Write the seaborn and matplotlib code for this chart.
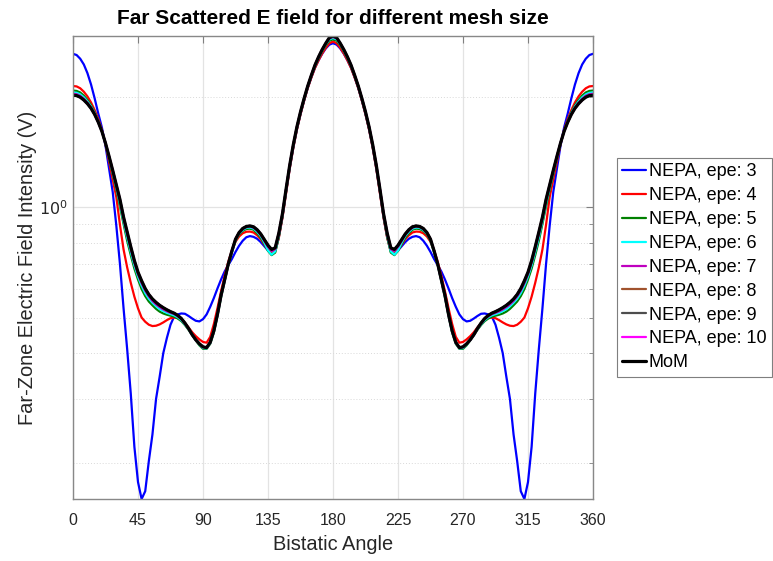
import matplotlib
matplotlib.use("Agg")
import matplotlib.pyplot as plt
import matplotlib.ticker as mticker
import seaborn as sns
import pandas as pd

# ---------------- data ----------------
angles = [0, 2.5, 5, 7.5, 10, 12.5, 15, 17.5, 20, 22.5,
          25, 27.5, 30, 32.5, 35, 37.5, 40, 42.5, 45, 47.5,
          50, 52.5, 55, 57.5, 60, 62.5, 65, 67.5, 70, 72.5,
          75, 77.5, 80, 82.5, 85, 87.5, 90, 92.5, 95, 97.5,
          100, 102.5, 105, 107.5, 110, 112.5, 115, 117.5, 120, 122.5,
          125, 127.5, 130, 132.5, 135, 137.5, 140, 142.5, 145, 147.5,
          150, 152.5, 155, 157.5, 160, 162.5, 165, 167.5, 170, 172.5,
          175, 177.5, 180, 182.5, 185, 187.5, 190, 192.5, 195, 197.5,
          200, 202.5, 205, 207.5, 210, 212.5, 215, 217.5, 220, 222.5,
          225, 227.5, 230, 232.5, 235, 237.5, 240, 242.5, 245, 247.5,
          250, 252.5, 255, 257.5, 260, 262.5, 265, 267.5, 270, 272.5,
          275, 277.5, 280, 282.5, 285, 287.5, 290, 292.5, 295, 297.5,
          300, 302.5, 305, 307.5, 310, 312.5, 315, 317.5, 320, 322.5,
          325, 327.5, 330, 332.5, 335, 337.5, 340, 342.5, 345, 347.5,
          350, 352.5, 355, 357.5, 360]

epe3 = [2.62, 2.60, 2.54, 2.45, 2.32, 2.16, 1.98, 1.80, 1.65, 1.47,
        1.27, 1.10, 0.89, 0.70, 0.53, 0.41, 0.31, 0.222, 0.178, 0.16,
        0.168, 0.203, 0.24, 0.30, 0.345, 0.40, 0.44, 0.478, 0.503, 0.51,
        0.513, 0.512, 0.505, 0.497, 0.49, 0.488, 0.495, 0.51, 0.535, 0.565,
        0.60, 0.635, 0.668, 0.695, 0.722, 0.755, 0.785, 0.81, 0.828, 0.834,
        0.83, 0.82, 0.803, 0.782, 0.762, 0.748, 0.76, 0.83, 0.94, 1.10,
        1.275, 1.455, 1.63, 1.795, 1.955, 2.115, 2.26, 2.40, 2.515, 2.62,
        2.71, 2.775, 2.80,
        2.775, 2.71,
        2.62, 2.515, 2.40, 2.26, 2.115, 1.955, 1.795, 1.63, 1.455, 1.275,
        1.10, 0.94, 0.83, 0.76, 0.748, 0.762, 0.782, 0.803, 0.82, 0.83,
        0.834, 0.828, 0.81, 0.785, 0.755, 0.722, 0.695, 0.668, 0.635, 0.60,
        0.565, 0.535, 0.51, 0.495, 0.488, 0.49, 0.497, 0.505, 0.512, 0.513,
        0.51, 0.503, 0.478, 0.44, 0.40, 0.345, 0.30, 0.24, 0.203, 0.168,
        0.16, 0.178, 0.222, 0.31, 0.41, 0.53, 0.70, 0.89, 1.10, 1.27,
        1.47, 1.65, 1.80, 1.98, 2.16, 2.32, 2.45, 2.54, 2.60, 2.62]

epe4 = [2.14, 2.135, 2.11, 2.065, 2.005, 1.93, 1.84, 1.74, 1.625, 1.485,
        1.33, 1.19, 1.065, 0.895, 0.767, 0.685, 0.622, 0.57, 0.53, 0.50,
        0.487, 0.478, 0.474, 0.475, 0.479, 0.485, 0.492, 0.498, 0.50, 0.499,
        0.493, 0.483, 0.47, 0.456, 0.445, 0.436, 0.429, 0.427, 0.443, 0.48,
        0.53, 0.59, 0.65, 0.71, 0.762, 0.805, 0.832, 0.849, 0.857, 0.858,
        0.853, 0.838, 0.818, 0.79, 0.765, 0.748, 0.758, 0.825, 0.935, 1.09,
        1.27, 1.45, 1.625, 1.79, 1.95, 2.11, 2.255, 2.395, 2.515, 2.625,
        2.72, 2.80, 2.83,
        2.80, 2.72,
        2.625, 2.515, 2.395, 2.255, 2.11, 1.95, 1.79, 1.625, 1.45, 1.27,
        1.09, 0.935, 0.825, 0.758, 0.748, 0.765, 0.79, 0.818, 0.838, 0.853,
        0.858, 0.857, 0.849, 0.832, 0.805, 0.762, 0.71, 0.65, 0.59, 0.53,
        0.48, 0.443, 0.427, 0.429, 0.436, 0.445, 0.456, 0.47, 0.483, 0.493,
        0.499, 0.50, 0.498, 0.492, 0.485, 0.479, 0.475, 0.474, 0.478, 0.487,
        0.50, 0.53, 0.57, 0.622, 0.685, 0.767, 0.895, 1.065, 1.19, 1.33,
        1.485, 1.625, 1.74, 1.84, 1.93, 2.005, 2.065, 2.11, 2.135, 2.14]

epe5 = [2.08, 2.075, 2.055, 2.015, 1.96, 1.895, 1.815, 1.72, 1.615, 1.49,
        1.355, 1.23, 1.115, 1.005, 0.90, 0.81, 0.74, 0.68, 0.635, 0.598,
        0.572, 0.553, 0.54, 0.528, 0.519, 0.513, 0.509, 0.506, 0.503, 0.497,
        0.489, 0.477, 0.463, 0.448, 0.433, 0.42, 0.411, 0.411, 0.424, 0.455,
        0.505, 0.568, 0.628, 0.695, 0.752, 0.81, 0.843, 0.862, 0.872, 0.874,
        0.868, 0.85, 0.826, 0.793, 0.76, 0.74, 0.752, 0.83, 0.945, 1.105,
        1.285, 1.465, 1.64, 1.805, 1.965, 2.125, 2.275, 2.42, 2.545, 2.66,
        2.765, 2.845, 2.87,
        2.845, 2.765,
        2.66, 2.545, 2.42, 2.275, 2.125, 1.965, 1.805, 1.64, 1.465, 1.285,
        1.105, 0.945, 0.83, 0.752, 0.74, 0.76, 0.793, 0.826, 0.85, 0.868,
        0.874, 0.872, 0.862, 0.843, 0.81, 0.752, 0.695, 0.628, 0.568, 0.505,
        0.455, 0.424, 0.411, 0.411, 0.42, 0.433, 0.448, 0.463, 0.477, 0.489,
        0.497, 0.503, 0.506, 0.509, 0.513, 0.519, 0.528, 0.54, 0.553, 0.572,
        0.598, 0.635, 0.68, 0.74, 0.81, 0.90, 1.005, 1.115, 1.23, 1.355,
        1.49, 1.615, 1.72, 1.815, 1.895, 1.96, 2.015, 2.055, 2.075, 2.08]

epe6 = [2.056, 2.051, 2.031, 1.993, 1.942, 1.881, 1.805, 1.714, 1.613, 1.492,
        1.363, 1.242, 1.129, 1.023, 0.916, 0.828, 0.756, 0.694, 0.647, 0.611,
        0.583, 0.563, 0.549, 0.537, 0.527, 0.521, 0.515, 0.511, 0.507, 0.501,
        0.492, 0.479, 0.465, 0.448, 0.434, 0.422, 0.413, 0.412, 0.426, 0.457,
        0.507, 0.571, 0.631, 0.697, 0.755, 0.813, 0.847, 0.867, 0.878, 0.88,
        0.874, 0.857, 0.834, 0.80, 0.762, 0.742, 0.758, 0.838, 0.951, 1.111,
        1.291, 1.471, 1.646, 1.811, 1.971, 2.131, 2.281, 2.428, 2.555, 2.672,
        2.779, 2.867, 2.894,
        2.867, 2.779,
        2.672, 2.555, 2.428, 2.281, 2.131, 1.971, 1.811, 1.646, 1.471, 1.291,
        1.111, 0.951, 0.838, 0.758, 0.742, 0.762, 0.80, 0.834, 0.857, 0.874,
        0.88, 0.878, 0.867, 0.847, 0.813, 0.755, 0.697, 0.631, 0.571, 0.507,
        0.457, 0.426, 0.412, 0.413, 0.422, 0.434, 0.448, 0.465, 0.479, 0.492,
        0.501, 0.507, 0.511, 0.515, 0.521, 0.527, 0.537, 0.549, 0.563, 0.583,
        0.611, 0.647, 0.694, 0.756, 0.828, 0.916, 1.023, 1.129, 1.242, 1.363,
        1.492, 1.613, 1.714, 1.805, 1.881, 1.942, 1.993, 2.031, 2.051, 2.056]

epe7 = [2.038, 2.033, 2.013, 1.976, 1.929, 1.871, 1.798, 1.71, 1.612, 1.494,
        1.369, 1.251, 1.14, 1.037, 0.928, 0.842, 0.768, 0.705, 0.656, 0.62,
        0.592, 0.571, 0.555, 0.543, 0.534, 0.526, 0.52, 0.515, 0.511, 0.504,
        0.495, 0.481, 0.466, 0.449, 0.434, 0.423, 0.415, 0.413, 0.427, 0.458,
        0.508, 0.573, 0.633, 0.698, 0.758, 0.816, 0.85, 0.871, 0.882, 0.885,
        0.879, 0.863, 0.839, 0.808, 0.779, 0.759, 0.768, 0.844, 0.956, 1.116,
        1.296, 1.476, 1.651, 1.816, 1.976, 2.136, 2.286, 2.434, 2.563, 2.681,
        2.79, 2.884, 2.912,
        2.884, 2.79,
        2.681, 2.563, 2.434, 2.286, 2.136, 1.976, 1.816, 1.651, 1.476, 1.296,
        1.116, 0.956, 0.844, 0.768, 0.759, 0.779, 0.808, 0.839, 0.863, 0.879,
        0.885, 0.882, 0.871, 0.85, 0.816, 0.758, 0.698, 0.633, 0.573, 0.508,
        0.458, 0.427, 0.413, 0.415, 0.423, 0.434, 0.449, 0.466, 0.481, 0.495,
        0.504, 0.511, 0.515, 0.52, 0.526, 0.534, 0.543, 0.555, 0.571, 0.592,
        0.62, 0.656, 0.705, 0.768, 0.842, 0.928, 1.037, 1.14, 1.251, 1.369,
        1.494, 1.612, 1.71, 1.798, 1.871, 1.929, 1.976, 2.013, 2.033, 2.038]

epe8 = [2.02, 2.015, 1.995, 1.96, 1.915, 1.86, 1.79, 1.705, 1.61, 1.495,
        1.373, 1.257, 1.147, 1.046, 0.937, 0.851, 0.776, 0.712, 0.662, 0.627,
        0.60, 0.578, 0.562, 0.55, 0.54, 0.532, 0.525, 0.519, 0.514, 0.507,
        0.497, 0.483, 0.467, 0.449, 0.435, 0.424, 0.416, 0.414, 0.428, 0.46,
        0.51, 0.575, 0.635, 0.70, 0.76, 0.818, 0.853, 0.875, 0.886, 0.889,
        0.884, 0.868, 0.845, 0.815, 0.787, 0.767, 0.775, 0.85, 0.96, 1.12,
        1.30, 1.48, 1.655, 1.82, 1.98, 2.14, 2.29, 2.44, 2.57, 2.69,
        2.797, 2.895, 2.922,
        2.895, 2.797,
        2.69, 2.57, 2.44, 2.29, 2.14, 1.98, 1.82, 1.655, 1.48, 1.30,
        1.12, 0.96, 0.85, 0.775, 0.767, 0.787, 0.815, 0.845, 0.868, 0.884,
        0.889, 0.886, 0.875, 0.853, 0.818, 0.76, 0.70, 0.635, 0.575, 0.51,
        0.46, 0.428, 0.414, 0.416, 0.424, 0.435, 0.449, 0.467, 0.483, 0.497,
        0.507, 0.514, 0.519, 0.525, 0.532, 0.54, 0.55, 0.562, 0.578, 0.60,
        0.627, 0.662, 0.712, 0.776, 0.851, 0.937, 1.046, 1.147, 1.257, 1.373,
        1.495, 1.61, 1.705, 1.79, 1.86, 1.915, 1.96, 1.995, 2.015, 2.02]

epe9 = [2.02, 2.015, 1.995, 1.96, 1.915, 1.86, 1.79, 1.705, 1.61, 1.495,
        1.375, 1.26, 1.15, 1.05, 0.94, 0.855, 0.78, 0.715, 0.665, 0.63,
        0.60, 0.578, 0.562, 0.55, 0.54, 0.532, 0.525, 0.519, 0.514, 0.507,
        0.497, 0.483, 0.467, 0.449, 0.435, 0.424, 0.416, 0.414, 0.428, 0.46,
        0.51, 0.575, 0.635, 0.70, 0.76, 0.818, 0.853, 0.875, 0.886, 0.889,
        0.884, 0.868, 0.845, 0.815, 0.787, 0.767, 0.775, 0.85, 0.96, 1.12,
        1.30, 1.48, 1.655, 1.82, 1.98, 2.14, 2.29, 2.44, 2.57, 2.69,
        2.798, 2.897, 2.925,
        2.897, 2.798,
        2.69, 2.57, 2.44, 2.29, 2.14, 1.98, 1.82, 1.655, 1.48, 1.30,
        1.12, 0.96, 0.85, 0.775, 0.767, 0.787, 0.815, 0.845, 0.868, 0.884,
        0.889, 0.886, 0.875, 0.853, 0.818, 0.76, 0.70, 0.635, 0.575, 0.51,
        0.46, 0.428, 0.414, 0.416, 0.424, 0.435, 0.449, 0.467, 0.483, 0.497,
        0.507, 0.514, 0.519, 0.525, 0.532, 0.54, 0.55, 0.562, 0.578, 0.60,
        0.63, 0.665, 0.715, 0.78, 0.855, 0.94, 1.05, 1.15, 1.26, 1.375,
        1.495, 1.61, 1.705, 1.79, 1.86, 1.915, 1.96, 1.995, 2.015, 2.02]

epe10 = [2.02, 2.015, 1.995, 1.96, 1.915, 1.86, 1.79, 1.705, 1.61, 1.495,
         1.375, 1.26, 1.15, 1.05, 0.94, 0.855, 0.78, 0.715, 0.665, 0.63,
         0.60, 0.578, 0.562, 0.55, 0.54, 0.532, 0.525, 0.519, 0.514, 0.507,
         0.497, 0.483, 0.467, 0.449, 0.435, 0.424, 0.416, 0.414, 0.428, 0.46,
         0.51, 0.575, 0.635, 0.70, 0.76, 0.818, 0.853, 0.875, 0.886, 0.889,
         0.884, 0.868, 0.845, 0.815, 0.787, 0.767, 0.775, 0.85, 0.96, 1.12,
         1.30, 1.48, 1.655, 1.82, 1.98, 2.14, 2.29, 2.44, 2.57, 2.69,
         2.799, 2.898, 2.927,
         2.898, 2.799,
         2.69, 2.57, 2.44, 2.29, 2.14, 1.98, 1.82, 1.655, 1.48, 1.30,
         1.12, 0.96, 0.85, 0.775, 0.767, 0.787, 0.815, 0.845, 0.868, 0.884,
         0.889, 0.886, 0.875, 0.853, 0.818, 0.76, 0.70, 0.635, 0.575, 0.51,
         0.46, 0.428, 0.414, 0.416, 0.424, 0.435, 0.449, 0.467, 0.483, 0.497,
         0.507, 0.514, 0.519, 0.525, 0.532, 0.54, 0.55, 0.562, 0.578, 0.60,
         0.63, 0.665, 0.715, 0.78, 0.855, 0.94, 1.05, 1.15, 1.26, 1.375,
         1.495, 1.61, 1.705, 1.79, 1.86, 1.915, 1.96, 1.995, 2.015, 2.02]

mom = [2.02, 2.015, 1.995, 1.96, 1.915, 1.86, 1.79, 1.705, 1.61, 1.495,
       1.375, 1.26, 1.15, 1.05, 0.94, 0.855, 0.78, 0.715, 0.665, 0.63,
       0.60, 0.578, 0.562, 0.55, 0.54, 0.532, 0.525, 0.519, 0.514, 0.507,
       0.497, 0.483, 0.467, 0.449, 0.435, 0.424, 0.416, 0.414, 0.428, 0.46,
       0.51, 0.575, 0.635, 0.70, 0.76, 0.818, 0.853, 0.875, 0.886, 0.889,
       0.884, 0.868, 0.845, 0.815, 0.787, 0.767, 0.775, 0.85, 0.96, 1.12,
       1.30, 1.48, 1.655, 1.82, 1.98, 2.14, 2.29, 2.44, 2.57, 2.69,
       2.80, 2.90, 2.93,
       2.90, 2.80,
       2.69, 2.57, 2.44, 2.29, 2.14, 1.98, 1.82, 1.655, 1.48, 1.30,
       1.12, 0.96, 0.85, 0.775, 0.767, 0.787, 0.815, 0.845, 0.868, 0.884,
       0.889, 0.886, 0.875, 0.853, 0.818, 0.76, 0.70, 0.635, 0.575, 0.51,
       0.46, 0.428, 0.414, 0.416, 0.424, 0.435, 0.449, 0.467, 0.483, 0.497,
       0.507, 0.514, 0.519, 0.525, 0.532, 0.54, 0.55, 0.562, 0.578, 0.60,
       0.63, 0.665, 0.715, 0.78, 0.855, 0.94, 1.05, 1.15, 1.26, 1.375,
       1.495, 1.61, 1.705, 1.79, 1.86, 1.915, 1.96, 1.995, 2.015, 2.02]

series_names = ["NEPA, epe: 3", "NEPA, epe: 4", "NEPA, epe: 5", "NEPA, epe: 6",
                "NEPA, epe: 7", "NEPA, epe: 8", "NEPA, epe: 9", "NEPA, epe: 10", "MoM"]
series_values = [epe3, epe4, epe5, epe6, epe7, epe8, epe9, epe10, mom]
series_colors = ["#0000FF", "#FF0000", "#008000", "#00FFFF", "#BF00BF",
                 "#A0522D", "#4D4D4D", "#FF00FF", "#000000"]
x_ticks = [0, 45, 90, 135, 180, 225, 270, 315, 360]

# ---------------- plotting ----------------
sns.set_style("white")
plt.rcParams["font.family"] = ["Liberation Sans", "DejaVu Sans"]
TXT = "#262626"

fig = plt.figure(figsize=(7.73, 5.61), dpi=100)
ax = fig.add_axes([73 / 773, 1 - 499 / 561, 520 / 773, 463 / 561])

for name, vals, col in zip(series_names, series_values, series_colors):
    df = pd.DataFrame({"angle": angles, "value": vals})
    sns.lineplot(data=df, x="angle", y="value", ax=ax, color=col,
                 linewidth=2.3 if name == "MoM" else 1.6, label=name,
                 sort=False, estimator=None)

ax.set_yscale("log")
ax.set_xlim(0, 360)
all_vals = [v for s in series_values for v in s]
ax.set_ylim(min(all_vals), max(all_vals))

ax.set_xticks(x_ticks)
ax.set_xticklabels([str(t) for t in x_ticks])
ax.yaxis.set_major_locator(mticker.FixedLocator([1.0]))
ax.yaxis.set_major_formatter(mticker.FixedFormatter([r"$10^0$"]))
ax.yaxis.set_minor_locator(mticker.FixedLocator([0.2, 0.3, 0.4, 0.5, 0.6, 0.7, 0.8, 0.9, 2.0]))
ax.yaxis.set_minor_formatter(mticker.NullFormatter())

ax.grid(True, which="major", axis="both", color="#E3E3E3", linewidth=0.9, linestyle="-")
ax.grid(True, which="minor", axis="y", color="#D9D9D9", linewidth=0.7, linestyle=(0, (1, 2)))
ax.set_axisbelow(True)

ax.tick_params(axis="both", which="both", direction="in", top=True, right=True,
               colors="#808080", labelcolor=TXT, labelsize=11.5)
ax.tick_params(axis="both", which="major", length=5, width=0.8)
ax.tick_params(axis="y", which="minor", length=3, width=0.6)
ax.tick_params(axis="x", which="major", pad=10)
for sp in ax.spines.values():
    sp.set_color("#888888")
    sp.set_linewidth(1.0)

ax.set_xlabel("Bistatic Angle", fontsize=14.4, color=TXT, labelpad=5)
ax.set_ylabel("Far-Zone Electric Field Intensity (V)", fontsize=14.4, color=TXT, labelpad=2)
ax.set_title("Far Scattered E field for different mesh size", fontsize=15,
             fontweight="bold", color="black", pad=9)

leg = ax.legend(loc="upper left", bbox_to_anchor=(617 / 773, 1 - 158 / 561),
                bbox_transform=fig.transFigure, borderaxespad=0, fontsize=13,
                frameon=True, fancybox=False, framealpha=1, edgecolor="#7F7F7F",
                handlelength=1.3, handletextpad=0.15, labelspacing=0.38,
                borderpad=0.3)
leg.get_frame().set_linewidth(0.8)
for t in leg.get_texts():
    t.set_color("black")

fig.savefig("out.png", dpi=100)
